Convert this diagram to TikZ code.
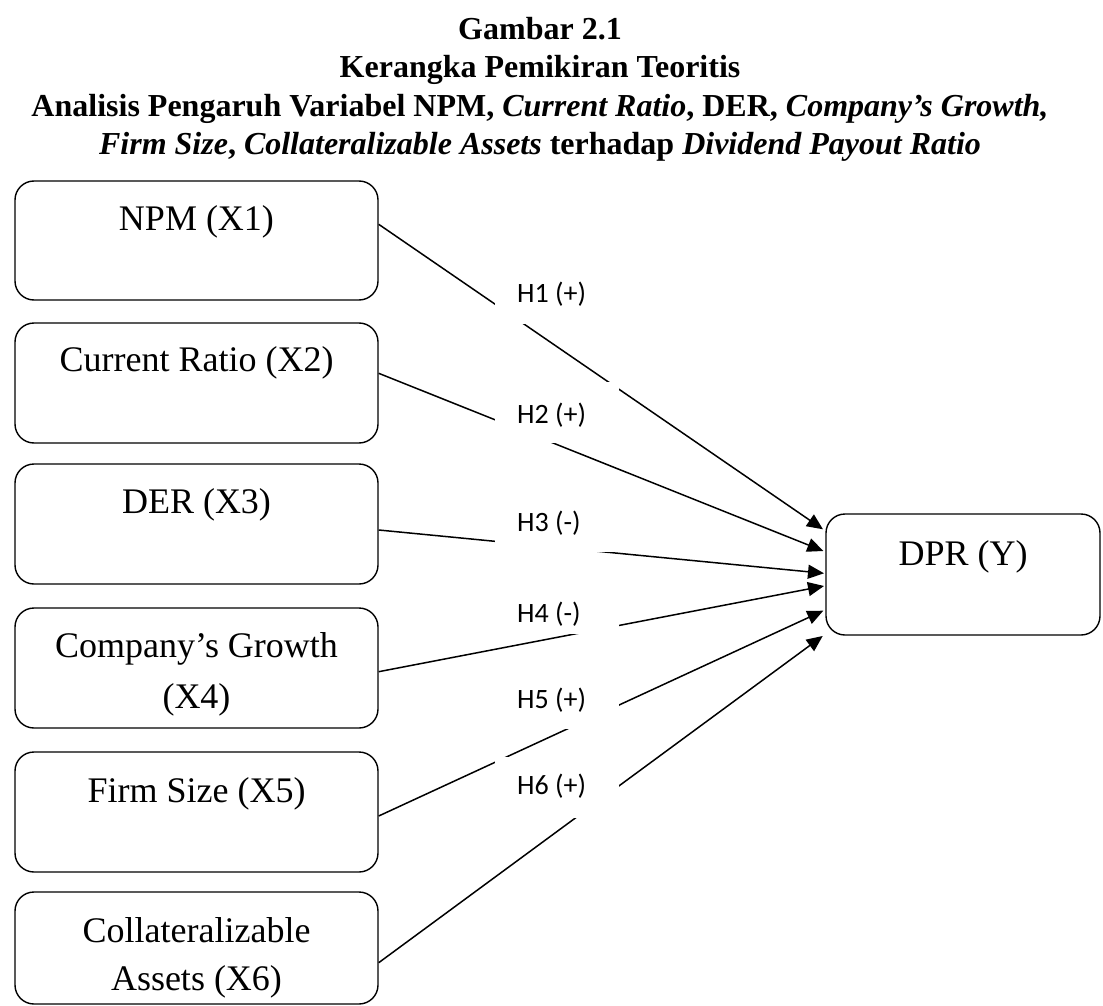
\documentclass[tikz,border=0pt]{standalone}
\usepackage{fontspec}
\setmainfont{Liberation Serif}
\newfontfamily\lblfont{Carlito}
\usetikzlibrary{arrows.meta}
\begin{document}
\begin{tikzpicture}[x=1pt,y=-1pt,
  varbox/.style={draw, line width=1.4pt, rounded corners=19pt, inner sep=0pt},
  boxtext/.style={anchor=base, font=\fontsize{36}{42}\selectfont, inner sep=0pt},
  titletext/.style={anchor=base, font=\fontsize{32}{38}\selectfont\bfseries, inner sep=0pt},
  hypbg/.style={fill=white, inner sep=0pt, minimum width=124pt, minimum height=61pt},
  hyptext/.style={anchor=base west, font=\lblfont\fontsize{28}{32}\selectfont, inner sep=0pt},
  link/.style={line width=1.5pt, -{Triangle[length=16pt,width=14pt]}}
]
\useasboundingbox (0,0) rectangle (1103,1006);

% title
\node[titletext] (tt1) at (540,40) {Gambar 2.1};
\node[titletext] (tt2) at (540,78) {Kerangka Pemikiran Teoritis};
\node[titletext] (tt3) at (540,117) {Analisis Pengaruh Variabel NPM, \textit{Current Ratio}, DER, \textit{Company’s Growth,}};
\node[titletext] (tt4) at (540,155) {\textit{Firm Size}, \textit{Collateralizable Assets} terhadap \textit{Dividend Payout Ratio}};

% boxes
\node[varbox, minimum width=363pt, minimum height=119pt] (b1) at (196.5,240.5) {};
\node[varbox, minimum width=363pt, minimum height=120pt] (b2) at (196.5,383) {};
\node[varbox, minimum width=363pt, minimum height=120pt] (b3) at (196.5,524) {};
\node[varbox, minimum width=363pt, minimum height=120pt] (b4) at (196.5,668) {};
\node[varbox, minimum width=363pt, minimum height=120pt] (b5) at (196.5,812) {};
\node[varbox, minimum width=363pt, minimum height=112pt] (b6) at (196.5,948) {};
\node[varbox, minimum width=274pt, minimum height=121pt] (dpr) at (963,574.5) {};

\node[boxtext] (x1) at (196.5,230.7) {NPM (X1)};
\node[boxtext] (x2) at (196.5,371.7) {Current Ratio (X2)};
\node[boxtext] (x3) at (196.5,513) {DER (X3)};
\node[boxtext] (x4a) at (196.5,657) {Company’s Growth};
\node[boxtext] (x4b) at (196.5,708) {(X4)};
\node[boxtext] (x5) at (196.5,802) {Firm Size (X5)};
\node[boxtext] (x6a) at (196.5,942) {Collateralizable};
\node[boxtext] (x6b) at (196.5,990) {Assets (X6)};
\node[boxtext] (y) at (963,565) {DPR (Y)};

% connector ends
\coordinate (s1) at (b1.east |- 0,224.3);
\coordinate (s2) at (b2.east |- 0,373.3);
\coordinate (s3) at (b3.east |- 0,530);
\coordinate (s4) at (b4.east |- 0,671.7);
\coordinate (s5) at (b5.east |- 0,816);
\coordinate (s6) at (b6.east |- 0,962.7);
\coordinate (e1) at (823,529.3);
\coordinate (e2) at (823.3,551);
\coordinate (e3) at (824,573.3);
\coordinate (e4) at (824,586);
\coordinate (e5) at (823.3,610.7);
\coordinate (e6) at (822.7,636);

\draw[link] (s1) -- (e1);
\draw[link] (s2) -- (e2);
\draw[link] (s3) -- (e3);
\draw[link] (s4) -- (e4);
\draw[link] (s5) -- (e5);
\draw[link] (s6) -- (e6);

% hypothesis labels (white boxes covering the lines)
\node[hypbg] (h1bg) at (557,293.5) {};
\node[hypbg] (h2bg) at (557,412.5) {};
\node[hypbg] (h3bg) at (557,521.5) {};
\node[hypbg] (h4bg) at (557,603.5) {};
\node[hypbg] (h5bg) at (557,698.5) {};
\node[hypbg] (h6bg) at (557,787.5) {};

\node[hyptext] (h1) at (517,302.5) {H1 (+)};
\node[hyptext] (h2) at (517,423) {H2 (+)};
\node[hyptext] (h3) at (517,531.7) {H3 (-)};
\node[hyptext] (h4) at (517,622.3) {H4 (-)};
\node[hyptext] (h5) at (517,708.3) {H5 (+)};
\node[hyptext] (h6) at (517,794.3) {H6 (+)};
\end{tikzpicture}
\end{document}
